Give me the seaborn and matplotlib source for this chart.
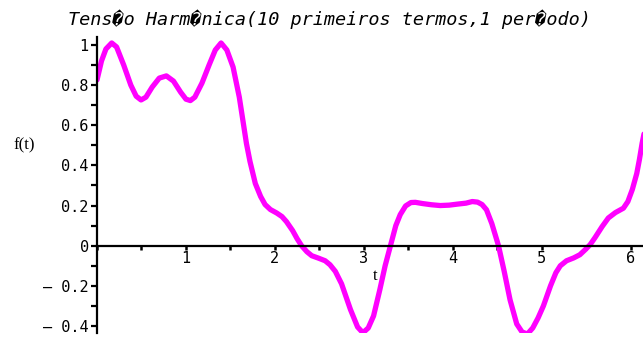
import matplotlib
matplotlib.use("Agg")
import matplotlib.pyplot as plt
from matplotlib.ticker import FixedLocator, MultipleLocator
import seaborn as sns
import pandas as pd

# Sampled values of the 10-term harmonic voltage over one period
t_vals = [0.00, 0.05, 0.10, 0.165, 0.22, 0.30, 0.38, 0.44, 0.495, 0.55,
          0.62, 0.70, 0.78, 0.86, 0.94, 1.00, 1.05, 1.10, 1.18, 1.26,
          1.33, 1.395, 1.46, 1.53, 1.60, 1.68, 1.72, 1.78, 1.84, 1.89,
          1.95, 2.02, 2.08, 2.13, 2.20, 2.25, 2.30, 2.36, 2.415, 2.49,
          2.565, 2.62, 2.68, 2.75, 2.85, 2.93, 2.99, 3.05, 3.11, 3.18,
          3.24, 3.30, 3.36, 3.41, 3.47, 3.53, 3.58, 3.66, 3.76, 3.86,
          3.96, 4.05, 4.15, 4.22, 4.28, 4.33, 4.38, 4.44, 4.515, 4.58,
          4.645, 4.72, 4.78, 4.84, 4.90, 4.96, 5.02, 5.10, 5.16, 5.21,
          5.28, 5.36, 5.43, 5.49, 5.545, 5.60, 5.68, 5.75, 5.83, 5.92,
          5.97, 6.02, 6.07, 6.10, 6.13, 6.18, 6.283]
f_vals = [0.826, 0.92, 0.98, 1.01, 0.99, 0.90, 0.80, 0.745, 0.726, 0.74,
          0.79, 0.835, 0.846, 0.82, 0.765, 0.73, 0.723, 0.74, 0.81, 0.90,
          0.975, 1.01, 0.975, 0.89, 0.74, 0.51, 0.42, 0.31, 0.245, 0.205,
          0.18, 0.163, 0.145, 0.12, 0.075, 0.035, 0.0, -0.03, -0.05, -0.062,
          -0.075, -0.095, -0.128, -0.19, -0.318, -0.405, -0.434, -0.41, -0.35, -0.22,
          -0.10, 0.0, 0.10, 0.155, 0.198, 0.215, 0.216, 0.21, 0.204, 0.20,
          0.202, 0.207, 0.212, 0.22, 0.217, 0.205, 0.179, 0.11, 0.0, -0.13,
          -0.27, -0.39, -0.43, -0.44, -0.41, -0.36, -0.30, -0.20, -0.135, -0.10,
          -0.075, -0.061, -0.045, -0.02, 0.005, 0.04, 0.095, 0.138, 0.165, 0.187,
          0.22, 0.28, 0.36, 0.43, 0.51, 0.62, 0.826]

x_ticks = [1, 2, 3, 4, 5, 6]
x_tick_labels = ["1", "2", "3", "4", "5", "6"]
y_ticks = [-0.4, -0.2, 0, 0.2, 0.4, 0.6, 0.8, 1]
y_tick_labels = ["\u2012 0.4", "\u2012 0.2", "0", "0.2", "0.4", "0.6", "0.8", "1"]

title = "Tens\ufffdo Harm\ufffdnica(10 primeiros termos,1 per\ufffdodo)"

sns.set_theme(style="white")
plt.rcParams["font.family"] = ["DejaVu Sans Mono", "DejaVu Sans"]
plt.rcParams["text.color"] = "black"
plt.rcParams["xtick.color"] = "black"
plt.rcParams["ytick.color"] = "black"
plt.rcParams["xtick.labelcolor"] = "black"
plt.rcParams["ytick.labelcolor"] = "black"

df = pd.DataFrame({"t": t_vals, "f": f_vals})

fig = plt.figure(figsize=(6.43, 3.39), dpi=100)
ax = fig.add_axes([0.1509, 0.0177, 0.8491, 0.8733])

sns.lineplot(data=df, x="t", y="f", ax=ax, color="#ff00ff", linewidth=3.8,
             sort=False, estimator=None)

ax.set_xlim(0, 6.14)
ax.set_ylim(-0.435, 1.04)

for side in ("top", "right"):
    ax.spines[side].set_visible(False)
ax.spines["bottom"].set_position(("data", 0))
ax.spines["left"].set_position(("data", 0))
for side in ("left", "bottom"):
    ax.spines[side].set_color("black")
    ax.spines[side].set_linewidth(1.6)

ax.xaxis.set_major_locator(FixedLocator(x_ticks))
ax.set_xticklabels(x_tick_labels)
ax.xaxis.set_minor_locator(MultipleLocator(0.5))
ax.yaxis.set_major_locator(FixedLocator(y_ticks))
ax.set_yticklabels(y_tick_labels)
ax.yaxis.set_minor_locator(MultipleLocator(0.1))

ax.tick_params(axis="x", which="both", direction="out", length=3, width=1.8,
               color="black", labelcolor="black", labelsize=11, pad=1,
               bottom=True)
ax.tick_params(axis="y", which="both", direction="out", length=4, width=1.6,
               color="black", labelcolor="black", labelsize=11, pad=2,
               left=True)

ax.set_xlabel("")
ax.set_ylabel("")
fig.text(0.037, 0.57, "f(t)", family="Liberation Serif", fontsize=12,
         color="black", ha="center", va="center")
ax.text(3.13, -0.15, "t", family="Liberation Serif", fontsize=12,
        color="black", ha="center", va="center")

fig.text(0.513, 0.944, title, fontsize=13.3, style="italic", color="black",
         ha="center", va="center")

fig.savefig("out.png", dpi=100)
